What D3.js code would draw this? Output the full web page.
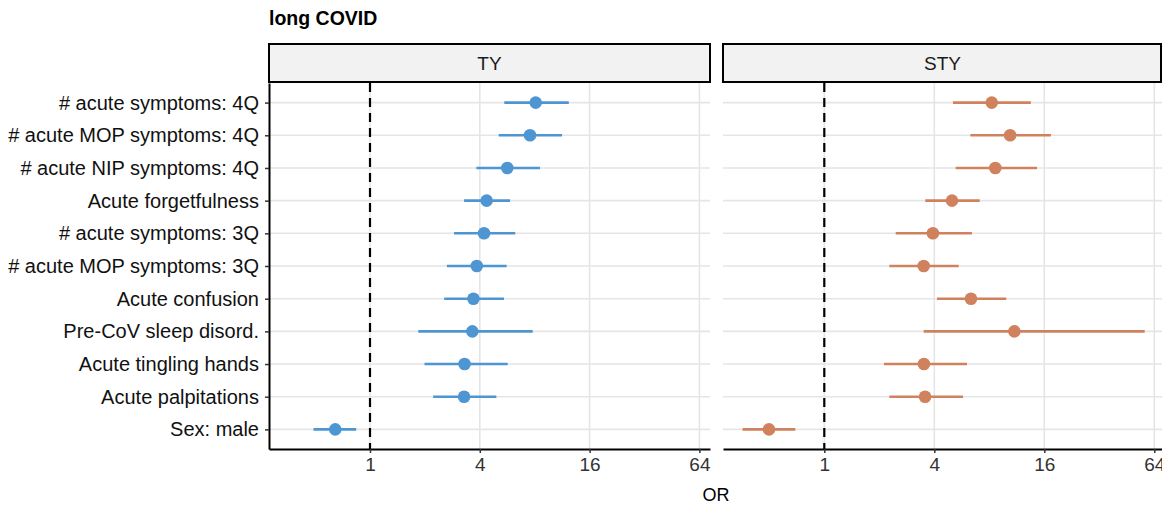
<!DOCTYPE html>
<html>
<head>
<meta charset="utf-8">
<script src="https://cdn.jsdelivr.net/npm/d3@7"></script>
<style>
body { margin: 0; background: #fff; }
text { font-family: "Liberation Sans", Arial, sans-serif; }
</style>
</head>
<body>
<script>
// 변수 (위에서 아래 순서)
var labels = ["# acute symptoms: 4Q", "# acute MOP symptoms: 4Q", "# acute NIP symptoms: 4Q",
	"Acute forgetfulness", "# acute symptoms: 3Q", "# acute MOP symptoms: 3Q", "Acute confusion",
	"Pre-CoV sleep disord.", "Acute tingling hands", "Acute palpitations", "Sex: male"];
var panels = ["TY", "STY"];
var xTicks = [1, 4, 16, 64];

// OR, 95% CI
var ty_or = [8.1, 7.54, 5.66, 4.36, 4.22, 3.85, 3.69, 3.64, 3.30, 3.28, 0.645];
var ty_lo = [5.45, 5.08, 3.83, 3.28, 2.89, 2.64, 2.55, 1.84, 1.99, 2.22, 0.49];
var ty_hi = [12.3, 11.3, 8.55, 5.86, 6.26, 5.61, 5.43, 7.8, 5.69, 4.93, 0.84];

var sty_or = [8.25, 10.4, 8.63, 5.0, 3.93, 3.50, 6.35, 10.97, 3.51, 3.56, 0.498];
var sty_lo = [5.06, 6.3, 5.24, 3.57, 2.46, 2.27, 4.14, 3.50, 2.12, 2.27, 0.357];
var sty_hi = [13.5, 17.4, 14.6, 7.09, 6.43, 5.44, 9.91, 56.7, 6.04, 5.74, 0.694];

var colors = {TY: "#4E96D2", STY: "#D0825E"};

var W = 1162, H = 508;
var svg = d3.select("body").append("svg").attr("width", W).attr("height", H);

var pTop = 83, pBottom = 449;
var panelX = {TY: [269, 710], STY: [723, 1162]};
var FS = 19; // 글자 크기

var y = d3.scalePoint().domain(labels).range([pTop, pBottom]).padding(0.6);

svg.append("text").attr("x", 269).attr("y", 25)
	.attr("font-size", 19.5).attr("font-weight", "bold").attr("fill", "#000")
	.text("long COVID");

panels.forEach(function(p, pi){
	var data = labels.map(function(l, i){
		if (p == "TY") return {label: l, or: ty_or[i], lo: ty_lo[i], hi: ty_hi[i]};
		return {label: l, or: sty_or[i], lo: sty_lo[i], hi: sty_hi[i]};
	});
	var x0 = panelX[p][0], x1 = panelX[p][1];
	// 1 -> 370 (또는 824), 로그2 단위당 55px
	var oneX = p == "TY" ? 370 : 824.3;
	var per = p == "TY" ? 54.9 : 55;
	var x = d3.scaleLog().base(2)
		.domain([Math.pow(2, (x0 - oneX) / per), Math.pow(2, (x1 - oneX) / per)])
		.range([x0, x1]);

	var g = svg.append("g");

	// grid
	g.selectAll(".vg").data(xTicks).enter().append("line")
		.attr("x1", function(d){return x(d);}).attr("x2", function(d){return x(d);})
		.attr("y1", pTop).attr("y2", pBottom)
		.attr("stroke", "#E5E5E5").attr("stroke-width", 1.6);
	g.selectAll(".hg").data(labels).enter().append("line")
		.attr("x1", x0).attr("x2", x1)
		.attr("y1", function(d){return y(d);}).attr("y2", function(d){return y(d);})
		.attr("stroke", "#E5E5E5").attr("stroke-width", 1.6);

	// reference line OR = 1
	g.append("line")
		.attr("x1", x(1)).attr("x2", x(1)).attr("y1", pTop).attr("y2", pBottom)
		.attr("stroke", "#000").attr("stroke-width", 2.2).attr("stroke-dasharray", "9,6");

	// CI
	g.selectAll(".ci").data(data).enter().append("line")
		.attr("x1", function(d){return x(d.lo);}).attr("x2", function(d){return x(d.hi);})
		.attr("y1", function(d){return y(d.label);}).attr("y2", function(d){return y(d.label);})
		.attr("stroke", colors[p]).attr("stroke-width", 2.6);
	g.selectAll(".pt").data(data).enter().append("circle")
		.attr("cx", function(d){return x(d.or);}).attr("cy", function(d){return y(d.label);})
		.attr("r", 6.3).attr("fill", colors[p]);

	// x axis
	var xa = g.append("g").attr("transform", "translate(0," + pBottom + ")")
		.call(d3.axisBottom(x).tickValues(xTicks).tickFormat(d3.format("d")).tickSize(4).tickSizeOuter(0));
	xa.select(".domain").attr("stroke", "#000").attr("stroke-width", 2);
	xa.selectAll(".tick line").attr("stroke", "#333").attr("stroke-width", 1.5);
	xa.selectAll(".tick text").attr("font-size", FS).attr("fill", "#333")
		.attr("font-family", "Liberation Sans, Arial, sans-serif").attr("dy", "0.8em");

	// y axis (left panel only)
	if (pi == 0) {
		var ya = g.append("g").attr("transform", "translate(" + x0 + ",0)")
			.call(d3.axisLeft(y).tickSize(4).tickSizeOuter(0));
		ya.select(".domain").attr("stroke", "#000").attr("stroke-width", 2);
		ya.selectAll(".tick line").attr("stroke", "#333").attr("stroke-width", 1.5);
		ya.selectAll(".tick text").attr("font-size", 20).attr("fill", "#111")
			.attr("font-family", "Liberation Sans, Arial, sans-serif").attr("x", -10);
	}

	// strip
	g.append("rect").attr("x", x0).attr("y", 44).attr("width", x1 - x0 - (pi == 1 ? 1 : 0)).attr("height", 38)
		.attr("fill", "#F2F2F2").attr("stroke", "#000").attr("stroke-width", 2);
	g.append("text").attr("x", (x0 + x1) / 2).attr("y", 63).attr("dy", "0.35em")
		.attr("text-anchor", "middle").attr("font-size", FS).attr("fill", "#1A1A1A").text(p);
});

svg.append("text").attr("x", 716).attr("y", 501)
	.attr("text-anchor", "middle").attr("font-size", 18).attr("fill", "#000").text("OR");
</script>
</body>
</html>
